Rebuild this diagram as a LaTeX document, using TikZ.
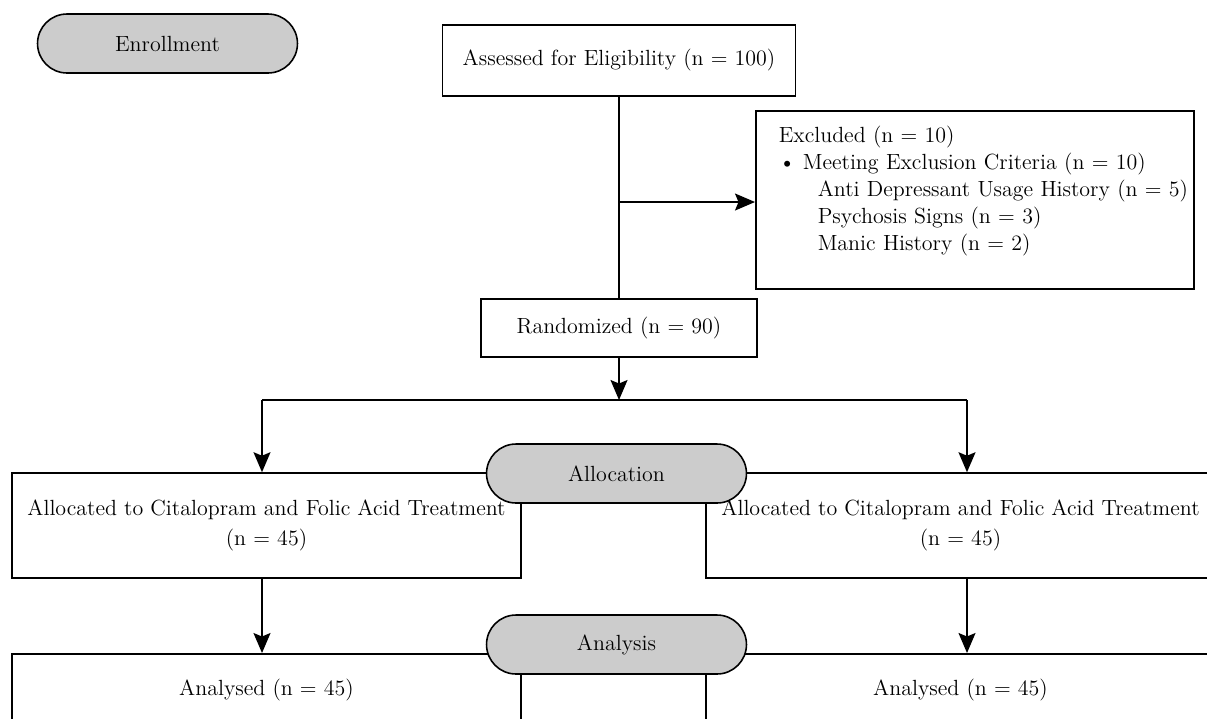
\documentclass[tikz,border=0pt]{standalone}
\usepackage{tikz}
\usetikzlibrary{shapes}
\usetikzlibrary{positioning}
\usetikzlibrary{arrows.meta}

\begin{document}
\begin{tikzpicture}[x=0.02cm, y=-0.02cm,
        line width=0.9pt,
        font=\fontsize{12.5}{15.3}\selectfont,
        >={Stealth[length=4mm,width=3.4mm,inset=0.7mm]},
        box/.style = {draw,fill=white,align=center,inner sep=0pt},
        unbox/.style = {align=left,inner xsep=0.46cm},
        twoline/.style = {font=\fontsize{12.5}{17.5}\selectfont},
        pill/.style = {draw,fill=black!20,rounded rectangle,inner sep=0pt,
            minimum width=5.2cm,minimum height=1.18cm}]
        \clip (0,0) rectangle (1207,718);
        \node[pill](enrol) at (167.5,43.5) {Enrollment};
        \node[box,minimum width=7.06cm,minimum height=1.42cm](assess) at (619,60.5)
            {Assessed for Eligibility (n = 100)};
        \node[box,unbox,anchor=north west,text width=7.84cm,minimum height=3.56cm](excl) at (755,110)
            {Excluded (n = 10)\\
            \textbullet\ Meeting Exclusion Criteria (n = 10)\\
            \mbox{\hspace*{0.78cm}Anti Depressant Usage History (n = 5)}\\
            \hspace*{0.78cm}Psychosis Signs (n = 3)\\
            \hspace*{0.78cm}Manic History (n = 2)\\[-2pt]\mbox{}};
        \node[box,minimum width=5.52cm,minimum height=1.16cm](rand) at (619,328)
            {Randomized (n = 90)};
        \node[box,twoline,minimum width=10.18cm,minimum height=2.1cm](allocA) at (266.5,525.5)
            {Allocated to Citalopram and Folic Acid Treatment\\(n = 45)};
        \node[box,twoline,minimum width=10.18cm,minimum height=2.1cm](allocB) at (960.5,525.5)
            {Allocated to Citalopram and Folic Acid Treatment\\(n = 45)};
        \node[box,anchor=north,minimum width=10.18cm,minimum height=1.44cm](anaA) at (266.5,653)
            {Analysed (n = 45)};
        \node[box,anchor=north,minimum width=10.18cm,minimum height=1.44cm](anaB) at (960.5,653)
            {Analysed (n = 45)};
        % phase labels
        \node[pill](phAlloc) at (616.5,473.5) {Allocation};
        \node[pill](phAna) at (616.5,644.5) {Analysis};
        % connectors
        \coordinate (ex) at (619,202);
        \coordinate (sp) at (619,400);
        \coordinate (spL) at (262,400);
        \coordinate (spR) at (967,400);
        \draw (assess) -- (rand);
        \draw[->] (ex) -- (ex -| excl.west);
        \draw[->] (rand) -- (sp);
        \draw (spL) -- (spR);
        \draw[->] (spL) -- (spL |- allocA.north);
        \draw[->] (spR) -- (spR |- allocB.north);
        \draw[->] (spL |- allocA.south) -- (spL |- anaA.north);
        \draw[->] (spR |- allocB.south) -- (spR |- anaB.north);
\end{tikzpicture}
\end{document}
